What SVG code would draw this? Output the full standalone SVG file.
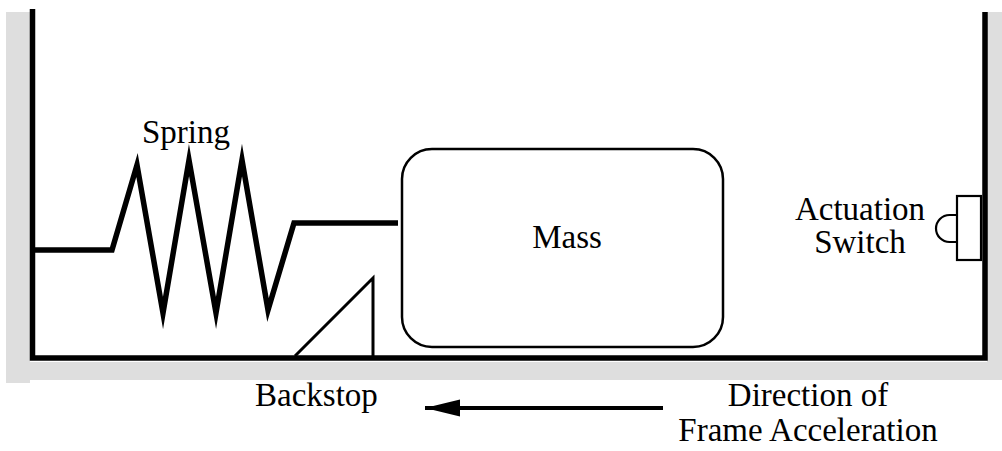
<svg xmlns="http://www.w3.org/2000/svg" width="1002" height="451" viewBox="0 0 1002 451">
<style>
text{font-family:"Liberation Serif","Times New Roman",serif;font-size:33px;fill:#000}
.thick{fill:none;stroke:#000;stroke-width:5.5;stroke-linejoin:miter;stroke-miterlimit:20}
.thin{fill:none;stroke:#000;stroke-width:3}
</style>
<defs>
<marker id="ah" markerUnits="userSpaceOnUse" markerWidth="36" markerHeight="18" refX="35" refY="9" orient="auto">
<path d="M0,0.5 L35,9 L0,17.5 Z" fill="#000"/>
</marker>
</defs>
<g id="frame">
<path d="M6,12 H30 V362 H987 V12 H1002 V380 H30 V383 H6 Z" fill="#dedede"/>
<path class="thick" d="M32.5,9 V358 H985 V12"/>
</g>
<g id="spring">
<path class="thick" d="M33,250 H112 L137,165 L163,313 L189,160 L216,313 L242,160 L268,310 L294,223 H398"/>
<text x="186" y="143" text-anchor="middle">Spring</text>
</g>
<g id="mass">
<rect x="402" y="149" width="321" height="198" rx="30" fill="#fff" stroke="#000" stroke-width="2.5"/>
<text x="567" y="248" text-anchor="middle">Mass</text>
</g>
<g id="backstop">
<path class="thin" d="M295,356 L373,278 V357"/>
<text x="255" y="406">Backstop</text>
</g>
<g id="switch">
<rect x="957" y="196" width="24" height="64" fill="#fff" stroke="#000" stroke-width="2.2"/>
<path d="M957,215 H949.5 A13.5,13.5 0 0 0 949.5,242 H957" fill="none" stroke="#000" stroke-width="2.2"/>
<text x="860" y="220" text-anchor="middle">Actuation</text>
<text x="860" y="253" text-anchor="middle">Switch</text>
</g>
<g id="connectors">
<line x1="663" y1="408" x2="425" y2="408" stroke="#000" stroke-width="4" marker-end="url(#ah)"/>
</g>
<g id="direction">
<text x="808" y="406" text-anchor="middle">Direction of</text>
<text x="808" y="441" text-anchor="middle">Frame Acceleration</text>
</g>
</svg>
